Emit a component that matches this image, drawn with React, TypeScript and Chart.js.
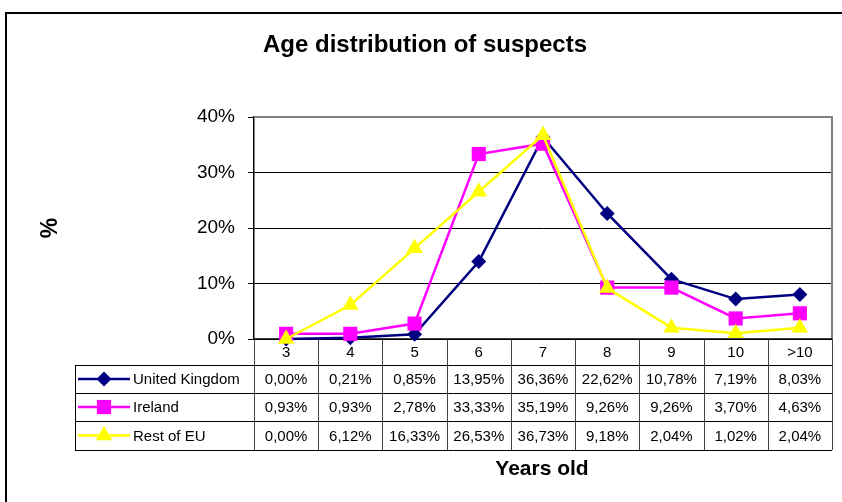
import React, { useEffect, useRef } from 'react';
import { Chart, registerables } from 'chart.js';

Chart.register(...registerables);

const titleText = 'Age distribution of suspects';
const xTitle = 'Years old';
const yTitle = '%';
const categories = ['3', '4', '5', '6', '7', '8', '9', '10', '>10'];
const yTicks = [0, 10, 20, 30, 40];
const ukValues = [0.0, 0.21, 0.85, 13.95, 36.36, 22.62, 10.78, 7.19, 8.03];
const irelandValues = [0.93, 0.93, 2.78, 33.33, 35.19, 9.26, 9.26, 3.7, 4.63];
const restEuValues = [0.0, 6.12, 16.33, 26.53, 36.73, 9.18, 2.04, 1.02, 2.04];
const seriesNames = ['United Kingdom', 'Ireland', 'Rest of EU'];

const FONT = "'Liberation Sans', Arial, sans-serif";
const COLORS = ['#000080', '#FF00FF', '#FFFF00'];
const STYLES = ['rectRot', 'rect', 'triangle'];
const RADII = [7.5, 10, 9.5];

const fmt = (v: number) => v.toFixed(2).replace('.', ',') + '%';

function drawMarker(ctx: CanvasRenderingContext2D, style: string, x: number, y: number, r: number) {
  ctx.beginPath();
  if (style === 'rectRot') {
    ctx.moveTo(x, y - r);
    ctx.lineTo(x + r, y);
    ctx.lineTo(x, y + r);
    ctx.lineTo(x - r, y);
    ctx.closePath();
  } else if (style === 'rect') {
    const s = r * Math.SQRT1_2;
    ctx.rect(x - s, y - s, 2 * s, 2 * s);
  } else {
    ctx.moveTo(x, y - r);
    ctx.lineTo(x + Math.sin((2 * Math.PI) / 3) * r, y - Math.cos((2 * Math.PI) / 3) * r);
    ctx.lineTo(x + Math.sin((4 * Math.PI) / 3) * r, y - Math.cos((4 * Math.PI) / 3) * r);
    ctx.closePath();
  }
  ctx.fill();
}

export default function App() {
  const ref = useRef<HTMLCanvasElement>(null);

  useEffect(() => {
    const canvas = ref.current!;
    const allValues = [ukValues, irelandValues, restEuValues];

    const decorPlugin = {
      id: 'decor',
      beforeDraw(chart: any) {
        const ctx = chart.ctx as CanvasRenderingContext2D;
        ctx.save();
        ctx.fillStyle = '#fff';
        ctx.fillRect(0, 0, chart.width, chart.height);
        ctx.strokeStyle = '#000';
        ctx.lineWidth = 2;
        ctx.strokeRect(6, 13, chart.width + 50, chart.height + 50);
        ctx.fillStyle = '#000';
        ctx.textAlign = 'center';
        ctx.textBaseline = 'middle';
        ctx.font = `bold 24px ${FONT}`;
        ctx.fillText(titleText, 425, 45);
        ctx.font = `bold 21px ${FONT}`;
        ctx.fillText(xTitle, 542, 469);
        ctx.save();
        ctx.translate(51, 228);
        ctx.rotate(-Math.PI / 2);
        ctx.font = `bold 23px ${FONT}`;
        ctx.fillText(yTitle, 0, 0);
        ctx.restore();
        ctx.restore();
      },
      beforeDatasetsDraw(chart: any) {
        const ctx = chart.ctx as CanvasRenderingContext2D;
        const area = chart.chartArea;
        const xs = chart.scales.x;
        const n = categories.length;
        const band = (area.right - area.left) / n;
        const top = area.bottom;
        const rowH = [26, 28, 28, 29];
        const rowsY = [top];
        for (const h of rowH) rowsY.push(rowsY[rowsY.length - 1] + h);
        const tableLeft = 75;
        ctx.save();
        ctx.strokeStyle = '#808080';
        ctx.lineWidth = 2;
        ctx.beginPath();
        ctx.moveTo(area.left, area.top);
        ctx.lineTo(area.right, area.top);
        ctx.lineTo(area.right, area.bottom);
        ctx.stroke();
        ctx.strokeStyle = '#000';
        ctx.lineWidth = 1;
        ctx.beginPath();
        for (let r = 1; r < rowsY.length; r++) {
          const y = Math.round(rowsY[r]) + 0.5;
          ctx.moveTo(tableLeft, y);
          ctx.lineTo(area.right, y);
        }
        ctx.moveTo(tableLeft + 0.5, rowsY[1]);
        ctx.lineTo(tableLeft + 0.5, rowsY[4]);
        ctx.stroke();
        ctx.strokeStyle = '#444';
        ctx.beginPath();
        for (let i = 0; i <= n; i++) {
          const x = Math.round(area.left + i * band) + 0.5;
          ctx.moveTo(x, top);
          ctx.lineTo(x, rowsY[4]);
        }
        ctx.stroke();
        ctx.strokeStyle = '#000';
        ctx.lineWidth = 1.5;
        ctx.beginPath();
        ctx.moveTo(area.left, top);
        ctx.lineTo(area.right, top);
        ctx.stroke();
        ctx.fillStyle = '#000';
        ctx.font = `15px ${FONT}`;
        ctx.textAlign = 'center';
        ctx.textBaseline = 'middle';
        categories.forEach((c, i) => {
          ctx.fillText(c, xs.getPixelForValue(i), (rowsY[0] + rowsY[1]) / 2 + 1);
        });
        allValues.forEach((vals, s) => {
          const cy = (rowsY[s + 1] + rowsY[s + 2]) / 2 + 1;
          vals.forEach((v, i) => {
            ctx.fillText(fmt(v), xs.getPixelForValue(i), cy);
          });
        });
        ctx.textAlign = 'left';
        seriesNames.forEach((name, s) => {
          const cy = (rowsY[s + 1] + rowsY[s + 2]) / 2;
          ctx.strokeStyle = COLORS[s];
          ctx.lineWidth = 2.5;
          ctx.beginPath();
          ctx.moveTo(78, cy);
          ctx.lineTo(130, cy);
          ctx.stroke();
          ctx.fillStyle = COLORS[s];
          drawMarker(ctx, STYLES[s], 104, cy, RADII[s]);
          ctx.fillStyle = '#000';
          ctx.fillText(name, 133, cy + 1);
        });
        ctx.restore();
      },
    };

    const chart = new Chart(canvas, {
      type: 'line',
      data: {
        labels: categories,
        datasets: allValues.map((vals, s) => ({
          label: seriesNames[s],
          data: vals,
          borderColor: COLORS[s],
          backgroundColor: COLORS[s],
          pointBackgroundColor: COLORS[s],
          pointBorderColor: COLORS[s],
          pointBorderWidth: 0,
          pointStyle: STYLES[s] as any,
          pointRadius: RADII[s],
          borderWidth: 2.5,
          tension: 0,
          fill: false,
          clip: false as any,
          order: 2 - s,
        })),
      },
      options: {
        animation: false,
        responsive: true,
        maintainAspectRatio: false,
        layout: { padding: { left: 0, top: 117, right: 9, bottom: 163 } },
        plugins: {
          legend: { display: false },
          title: { display: false },
          tooltip: { enabled: false },
        },
        scales: {
          x: {
            type: 'category',
            offset: true,
            display: false,
          },
          y: {
            min: 0,
            max: 40,
            afterFit: (scale: any) => {
              scale.width = 254;
            },
            afterBuildTicks: (scale: any) => {
              scale.ticks = yTicks.map((v) => ({ value: v }));
            },
            grid: {
              color: (c: any) => (c.tick && c.tick.value === 40 ? 'rgba(0,0,0,0)' : '#000'),
              lineWidth: 1,
              drawTicks: true,
              tickLength: 6,
              tickColor: '#000',
            },
            border: { display: true, color: '#000', width: 1.5 },
            ticks: {
              color: '#000',
              padding: 13,
              font: { family: FONT, size: 19 },
              callback: (v: any) => `${v}%`,
            },
          },
        },
      },
      plugins: [decorPlugin],
    });

    return () => chart.destroy();
  }, []);

  return (
    <div style={{ position: 'fixed', left: 0, top: 0, width: 842, height: 502, background: '#fff' }}>
      <canvas ref={ref} />
    </div>
  );
}
